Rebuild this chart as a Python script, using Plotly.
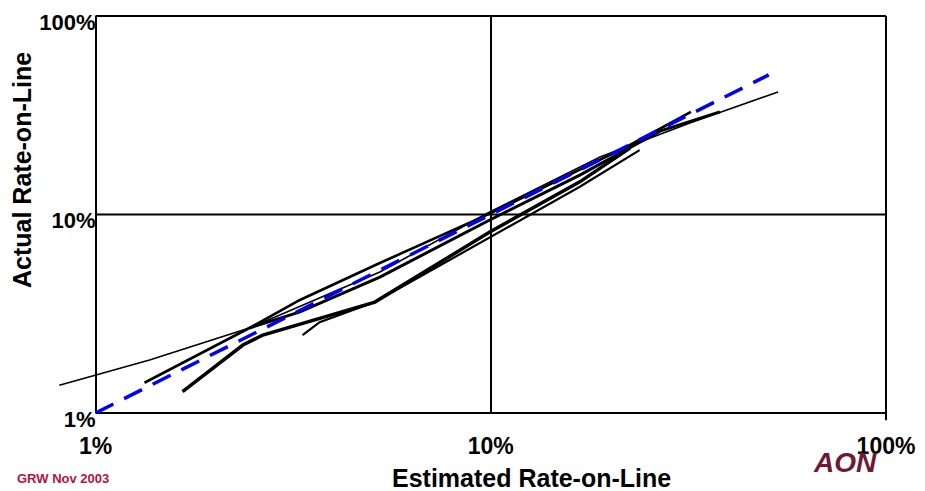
import plotly.graph_objects as go

# ---- data (rates in percent) ----
est_A = [0.81, 1.37, 2.45, 5.24, 9.94, 18.9, 31.9, 53.3]
act_A = [1.38, 1.85, 2.68, 5.13, 10.3, 19.5, 28.9, 41.4]
est_B = [1.33, 2.45, 3.29, 5.24, 9.94, 16.8, 22.5, 32.1]
act_B = [1.42, 2.68, 3.71, 5.70, 10.1, 16.8, 22.4, 32.9]
est_C = [1.66, 2.36, 2.65, 3.69, 5.09, 9.94, 16.8, 22.5]
act_C = [1.28, 2.20, 2.47, 3.01, 3.62, 8.16, 14.6, 21.6]
est_D = [3.34, 3.69, 5.09, 9.94, 16.8, 23.8]
act_D = [2.47, 2.87, 3.62, 7.70, 13.8, 21.1]
est_E = [2.45, 3.29, 5.24, 9.94, 16.8, 26.8, 38.0]
act_E = [2.68, 3.23, 4.84, 9.38, 15.8, 26.3, 32.9]
diag_x = [1.0, 50.5]
diag_y = [1.0, 50.5]

tick_vals = [0.01, 0.1, 1.0]
tick_text = ["1%", "10%", "100%"]

series = [
    (est_A, act_A, 1.6),
    (est_B, act_B, 2.6),
    (est_C, act_C, 3.5),
    (est_D, act_D, 2.2),
    (est_E, act_E, 3.0),
]

fig = go.Figure()
for ex, ac, w in series:
    fig.add_trace(go.Scatter(
        x=[v / 100 for v in ex], y=[v / 100 for v in ac],
        mode="lines", line=dict(color="black", width=w),
        showlegend=False, hoverinfo="skip"))

fig.add_trace(go.Scatter(
    x=[v / 100 for v in diag_x], y=[v / 100 for v in diag_y],
    mode="lines", line=dict(color="#0000ff", width=3.5, dash="20px,12px"),
    showlegend=False, hoverinfo="skip"))

FONT = "Liberation Sans, Arial, sans-serif"
xr = [-2.1, 0.0]
left_frac = (-2 - xr[0]) / (xr[1] - xr[0])

shapes = []
line_style = dict(color="black", width=2)
for yp in [0.0, 0.5, 1.0]:
    shapes.append(dict(type="line", xref="paper", yref="paper",
                       x0=left_frac, x1=1.0, y0=yp, y1=yp,
                       line=line_style, layer="below"))
shapes.append(dict(type="line", xref="paper", yref="paper",
                   x0=1.0, x1=1.0, y0=-0.018, y1=1.0, line=line_style, layer="below"))

fig.update_layout(
    width=925, height=491,
    margin=dict(l=56, r=39, t=16, b=78, autoexpand=False),
    paper_bgcolor="white", plot_bgcolor="white",
    font=dict(family=FONT, color="black"),
    xaxis=dict(type="log", range=xr, tickvals=tick_vals, ticktext=tick_text,
               showgrid=True, gridcolor="black", gridwidth=2,
               showline=False, zeroline=False, ticks="", automargin=False,
               ticklabelstandoff=17,
               tickfont=dict(family=FONT, size=23, weight="bold", color="black")),
    yaxis=dict(type="log", range=[-2, 0], tickvals=tick_vals, ticktext=tick_text,
               anchor="free", position=left_frac, automargin=False,
               showgrid=False, showline=False, zeroline=False, ticks="",
               ticklabelshift=6, ticklabelstandoff=0,
               tickfont=dict(family=FONT, size=22, weight="bold", color="black")),
    shapes=shapes,
    annotations=[
        dict(text="Estimated Rate-on-Line", xref="paper", yref="paper",
             x=(531 - 56) / 830, y=(413 - 478) / 397, showarrow=False,
             xanchor="center", yanchor="middle",
             font=dict(family=FONT, size=25, weight="bold", color="black")),
        dict(text="Actual Rate-on-Line", xref="paper", yref="paper",
             x=(22 - 56) / 830, y=(413 - 170) / 397, showarrow=False,
             textangle=-90, xanchor="center", yanchor="middle",
             font=dict(family=FONT, size=25, weight="bold", color="black")),
        dict(text="GRW Nov 2003", xref="paper", yref="paper",
             x=(15 - 56) / 830, y=(413 - 478) / 397, showarrow=False,
             xanchor="left", yanchor="middle",
             font=dict(family=FONT, size=13, weight="bold", color="#b5123e")),
        dict(text="<i>AON</i>", xref="paper", yref="paper",
             x=(845 - 56) / 830, y=(413 - 462) / 397, showarrow=False,
             xanchor="center", yanchor="middle",
             font=dict(family=FONT, size=28, weight="bold", color="#6e1a36")),
    ],
)

fig.write_html("out.html", config={"displayModeBar": False},
               post_script="document.body.style.margin='0';document.body.style.padding='0';")
